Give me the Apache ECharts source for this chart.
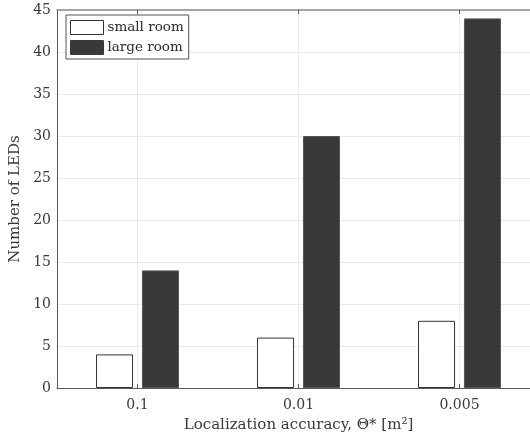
<!DOCTYPE html>
<html>
<head>
<meta charset="utf-8">
<script src="https://cdn.jsdelivr.net/npm/echarts@6/dist/echarts.min.js"></script>
<style>
  html, body { margin: 0; padding: 0; background: #fff; }
  #chart { width: 530px; height: 438px; }
</style>
</head>
<body>
<div id="chart"></div>
<script>
// Required number of LEDs per target localization accuracy
const categories = ['0.1', '0.01', '0.005'];
const smallRoom = [4, 6, 8];
const largeRoom = [14, 30, 44];
const yTicks = { min: 0, max: 45, step: 5 };

// Helper axis positions: boundaries and centres of each category band
const bandMarks = [];
categories.forEach(function (c, i) {
  if (i === 0) bandMarks.push('');
  bandMarks.push(c);
  bandMarks.push('');
});

const FONT = 'DejaVu Serif';
const TEXT = '#3a3a3a';
const AXIS = '#5a5a5a';
const GRIDC = '#ebebeb';

const chart = echarts.init(document.getElementById('chart'), null, { renderer: 'canvas' });

chart.setOption({
  animation: false,
  backgroundColor: '#ffffff',
  textStyle: { fontFamily: FONT },
  // plot area runs slightly past the right edge of the canvas
  grid: { left: 57, top: 10, width: 483, bottom: 50, containLabel: false, outerBoundsMode: 'none' },
  legend: {
    orient: 'vertical',
    left: 66,
    top: 15,
    padding: [5, 5, 4, 4],
    itemWidth: 33,
    itemHeight: 14,
    itemGap: 5,
    icon: 'rect',
    backgroundColor: '#ffffff',
    borderColor: '#555555',
    borderWidth: 1,
    borderRadius: 0,
    textStyle: { fontFamily: FONT, fontSize: 13.5, color: '#2a2a2a', padding: [0, 0, 0, -1] },
    data: [
      { name: 'small room', itemStyle: { color: '#ffffff', borderColor: '#333333', borderWidth: 1 } },
      { name: 'large room', itemStyle: { color: '#393939', borderColor: '#393939', borderWidth: 1 } }
    ]
  },
  xAxis: [
    {
      type: 'category',
      data: categories,
      position: 'bottom',
      axisLine: { show: true, lineStyle: { color: AXIS, width: 1 } },
      axisTick: { show: true, inside: true, alignWithLabel: true, length: 4, lineStyle: { color: AXIS } },
      axisLabel: { fontFamily: FONT, fontSize: 14, color: TEXT, margin: 10 },
      splitLine: { show: false },
      name: 'Localization accuracy, Θ* [m²]',
      nameLocation: 'middle',
      nameGap: 30,
      nameTextStyle: { fontFamily: FONT, fontSize: 15, color: TEXT }
    },
    {
      // top box edge with category grid lines and ticks
      type: 'category',
      data: bandMarks,
      boundaryGap: false,
      position: 'top',
      axisLine: { show: true, lineStyle: { color: '#8a8a8a', width: 1.5 } },
      axisTick: {
        show: true, inside: true, length: 4,
        interval: function (i) { return i % 2 === 1; },
        lineStyle: { color: AXIS }
      },
      axisLabel: { show: false },
      splitLine: {
        show: true,
        interval: function (i) { return i % 2 === 1; },
        lineStyle: { color: GRIDC, width: 1 }
      }
    }
  ],
  yAxis: {
    type: 'value',
    min: yTicks.min,
    max: yTicks.max,
    interval: yTicks.step,
    axisLine: { show: true, lineStyle: { color: AXIS, width: 1 } },
    axisTick: { show: false },
    axisLabel: { fontFamily: FONT, fontSize: 14, color: TEXT, margin: 6 },
    splitLine: { show: true, lineStyle: { color: GRIDC, width: 1 } },
    name: 'Number of LEDs',
    nameLocation: 'middle',
    nameGap: 29,
    nameTextStyle: { fontFamily: FONT, fontSize: 15, color: TEXT }
  },
  series: [
    {
      name: 'small room',
      type: 'bar',
      xAxisIndex: 0,
      data: smallRoom,
      barWidth: '23%',
      barGap: '24%',
      itemStyle: { color: '#ffffff', borderColor: '#333333', borderWidth: 1 }
    },
    {
      name: 'large room',
      type: 'bar',
      xAxisIndex: 0,
      data: largeRoom,
      barWidth: '23%',
      barGap: '24%',
      itemStyle: { color: '#393939', borderColor: '#555555', borderWidth: 1 }
    }
  ]
});
</script>
</body>
</html>
